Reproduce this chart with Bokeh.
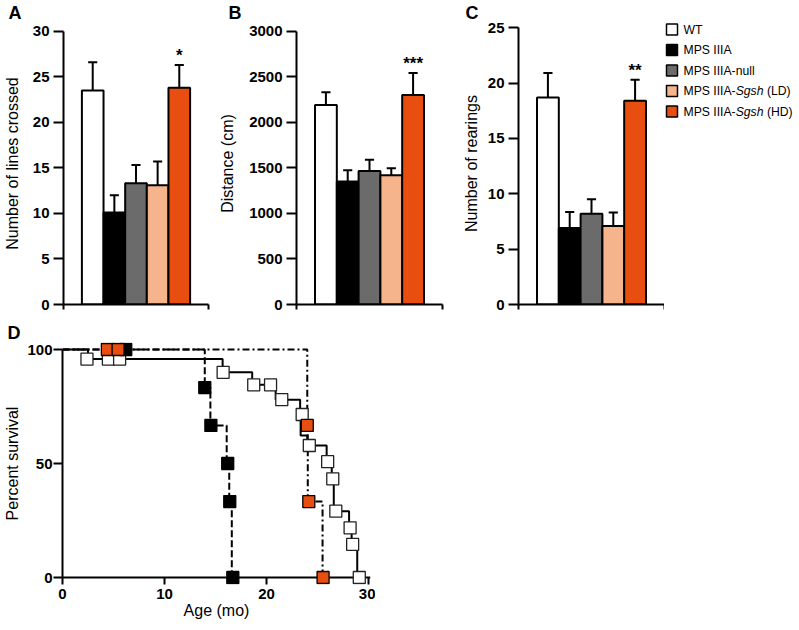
from bokeh.plotting import figure
from bokeh.models import (Range1d, FixedTicker, Span, ColumnDataSource,
                          CustomJSTickFormatter)
from bokeh.layouts import row, column
from bokeh.embed import file_html
from bokeh.resources import INLINE
from bokeh.core.properties import value

FONT = "Liberation Sans"

# ---------------- data ----------------
groups = ["WT", "MPS IIIA", "MPS IIIA-null", "MPS IIIA-Sgsh (LD)", "MPS IIIA-Sgsh (HD)"]
group_colors = ["#ffffff", "#000000", "#6b6b6b", "#f6b48c", "#e84e0f"]

lines_mean = [23.5, 10.1, 13.3, 13.1, 23.8]
lines_sem = [3.1, 1.9, 2.0, 2.6, 2.5]
lines_ticks = [0, 5, 10, 15, 20, 25, 30]
lines_stars = "*"

distance_mean = [2190, 1350, 1465, 1420, 2300]
distance_sem = [140, 125, 125, 75, 240]
distance_ticks = [0, 500, 1000, 1500, 2000, 2500, 3000]
distance_stars = "***"

rearing_mean = [18.7, 6.9, 8.2, 7.1, 18.4]
rearing_sem = [2.2, 1.45, 1.3, 1.2, 1.9]
rearing_ticks = [0, 5, 10, 15, 20, 25]
rearing_stars = "**"

# Kaplan-Meier survival (age in months, percent surviving)
wt_step_t = [0, 2.5, 15.7, 18.6, 20.9, 23.3, 23.35, 24.0, 25.9, 26.4, 26.6, 28.1, 28.35, 28.9]
wt_step_s = [100, 95.8, 90.0, 84.5, 78.0, 71.5, 62.3, 57.9, 50.8, 43.3, 29.1, 21.8, 14.5, 0]
wt_mark_t = [2.4, 4.5, 5.6, 15.75, 18.75, 20.4, 21.5, 23.5, 24.2, 26.0, 26.5, 26.8, 28.2, 28.45, 29.1]
wt_mark_s = [95.8, 95.8, 95.8, 90.0, 84.5, 84.5, 78.0, 71.5, 57.9, 50.8, 43.3, 29.1, 21.8, 14.5, 0]

mps_step_t = [0, 13.95, 14.5, 16.1, 16.35, 16.6]
mps_step_s = [100, 83.3, 66.7, 50.0, 33.3, 0]
mps_mark_t = [6.2, 13.95, 14.55, 16.2, 16.4, 16.7]
mps_mark_s = [100, 83.3, 66.7, 50.0, 33.3, 0]

hd_step_t = [0, 24.0, 24.05, 25.5]
hd_step_s = [100, 66.7, 33.3, 0]
hd_mark_t = [4.4, 5.45, 24.0, 24.15, 25.55]
hd_mark_s = [100, 100, 66.7, 33.3, 0]

age_ticks = [0, 10, 20, 30]
survival_ticks = [0, 50, 100]

# ---------------- layout constants (pixels) ----------------
ROW_H = 318
TOP = 22          # frame top of upper panels
ZERO_PX = 304     # pixel row of y = 0 in upper panels
BOTTOM = ROW_H - ZERO_PX
X0, X1 = -1.35, 5.35


def set_letter(p, letter, offset):
    t = p.title
    t.text = letter
    t.align = "left"
    t.offset = offset
    t.standoff = 0
    t.text_font = FONT
    t.text_font_size = "18px"
    t.text_font_style = "bold"
    t.text_color = "black"


def style_yaxis(ax, label, standoff, tick_size="15px", lab_standoff=4, tick_out=10):
    ax.axis_label = label
    ax.axis_label_text_font = FONT
    ax.axis_label_text_font_size = "16px"
    ax.axis_label_text_font_style = "normal"
    ax.axis_label_text_color = "black"
    ax.axis_label_standoff = standoff
    ax.major_label_text_font = FONT
    ax.major_label_text_font_size = tick_size
    ax.major_label_text_font_style = "bold"
    ax.major_label_text_color = "black"
    ax.major_label_standoff = lab_standoff
    ax.major_tick_out = tick_out
    ax.major_tick_in = 0
    ax.minor_tick_line_color = None
    ax.axis_line_width = 2
    ax.major_tick_line_width = 2
    ax.axis_line_color = "black"
    ax.major_tick_line_color = "black"


def bar_panel(letter, means, sems, ticks, ylabel, stars, width, left, right,
              standoff, letter_x, axis_top_px):
    ymax = ticks[-1]
    yend = ymax * (ZERO_PX - TOP) / (ZERO_PX - axis_top_px)
    p = figure(width=width, height=ROW_H, x_range=Range1d(X0, X1), y_range=Range1d(0, yend),
               output_backend="svg", toolbar_location=None,
               min_border_left=left, min_border_right=right,
               min_border_top=TOP, min_border_bottom=BOTTOM)
    p.outline_line_color = None
    p.grid.visible = False
    xs = list(range(len(means)))
    tops = [m + s for m, s in zip(means, sems)]
    cap = 0.21
    src = ColumnDataSource(dict(x=xs, mean=means, top=tops, color=group_colors,
                                cx0=[x - cap for x in xs], cx1=[x + cap for x in xs]))
    p.vbar(x="x", top="mean", bottom=0, width=1.0, fill_color="color",
           line_color="black", line_width=2, source=src)
    p.segment(x0="x", y0="mean", x1="x", y1="top", line_color="black", line_width=2, source=src)
    p.segment(x0="cx0", y0="top", x1="cx1", y1="top", line_color="black", line_width=2, source=src)
    p.text(x=[xs[-1]], y=[tops[-1]], text=[stars], text_font=value(FONT),
           text_font_size="17px", text_font_style="bold", text_color="black",
           text_align="center", text_baseline="bottom")

    ya = p.yaxis[0]
    style_yaxis(ya, ylabel, standoff)
    ya.ticker = FixedTicker(ticks=ticks)
    ya.bounds = (0, ymax)

    xa = p.xaxis[0]
    xa.ticker = FixedTicker(ticks=[X0, X1])
    xa.formatter = CustomJSTickFormatter(code="return ''")
    xa.major_tick_out = 5
    xa.major_tick_in = 0
    xa.minor_tick_line_color = None
    xa.axis_line_width = 2
    xa.major_tick_line_width = 2
    xa.axis_line_color = "black"
    xa.major_tick_line_color = "black"

    set_letter(p, letter, letter_x - left)
    return p


pA = bar_panel("A", lines_mean, lines_sem, lines_ticks, "Number of lines crossed", lines_stars,
               215, 62, 7, 9, 7, 30.7)
pB = bar_panel("B", distance_mean, distance_sem, distance_ticks, "Distance (cm)", distance_stars,
               240, 81, 13, 10, 13, 30.7)
pC = bar_panel("C", rearing_mean, rearing_sem, rearing_ticks, "Number of rearings", rearing_stars,
               209, 63, 0, 5, 10, 27.2)

# ---------------- legend ----------------
LEG_W = 135
leg = figure(width=LEG_W, height=ROW_H, x_range=Range1d(0, LEG_W),
             y_range=Range1d(ZERO_PX, TOP),
             output_backend="svg", toolbar_location=None,
             x_axis_location=None, y_axis_location=None,
             min_border_left=0, min_border_right=0,
             min_border_top=TOP, min_border_bottom=BOTTOM)
leg.outline_line_color = None
leg.grid.visible = False
row_y = [29 + 20.5 * i for i in range(len(groups))]
leg.scatter(x=[7.5] * len(groups), y=row_y, marker="square", size=11,
            fill_color=group_colors, line_color="black", line_width=1.5)

# Arial / Liberation Sans advance widths (per 1000 em)
W = {" ": 278, "(": 333, ")": 333, "-": 333, "A": 667, "D": 722, "H": 722, "I": 278,
     "L": 556, "M": 833, "P": 667, "S": 667, "T": 611, "W": 944, "l": 222, "n": 556,
     "u": 556, "g": 556, "s": 500, "h": 556}
FS = 12.2


def tw(s):
    return sum(W.get(c, 556) for c in s) * FS / 1000.0


px, py, pt, pstyle = [], [], [], []
for name, yy in zip(groups, row_y):
    x = 19.0
    if "Sgsh" in name:
        a, b = name.split("Sgsh")
        parts = [(a, "normal"), ("Sgsh", "italic"), (b, "normal")]
    else:
        parts = [(name, "normal")]
    for txt, st in parts:
        lead = len(txt) - len(txt.lstrip(" "))
        x += tw(" " * lead)
        txt = txt.lstrip(" ")
        px.append(x)
        py.append(yy)
        pt.append(txt)
        pstyle.append(st)
        x += tw(txt)
lsrc = ColumnDataSource(dict(x=px, y=py, text=pt, style=pstyle))
leg.text(x="x", y="y", text="text", text_font_style="style", source=lsrc,
         text_font=value(FONT), text_font_size="12.2px", text_color="black",
         text_align="left", text_baseline="middle")

# ---------------- survival panel ----------------
D_W, D_H = 375, 306
DL, DR, DT, DB = 62, 5, 24, 40
Y100_PX, Y0_PX = 349 - 318, 577 - 318        # within the figure
ppu = (Y0_PX - Y100_PX) / 100.0
dyr = (-(D_H - DB - Y0_PX) / ppu, 100 + (Y100_PX - DT) / ppu)
dxr = (0, 30.2)
pD = figure(width=D_W, height=D_H, x_range=Range1d(*dxr), y_range=Range1d(*dyr),
            output_backend="svg", toolbar_location=None,
            min_border_left=DL, min_border_right=DR, min_border_top=DT, min_border_bottom=DB)
pD.outline_line_color = None
pD.grid.visible = False
pD.add_layout(Span(location=0, dimension="width", line_color="black", line_width=2,
                   level="underlay"))

pD.step(wt_step_t, wt_step_s, mode="after", line_color="black", line_width=2)
pD.step(mps_step_t, mps_step_s, mode="after", line_color="black", line_width=2, line_dash="7 3")
pD.step(hd_step_t, hd_step_s, mode="after", line_color="black", line_width=2,
        line_dash="7 3 2 3")
pD.scatter(wt_mark_t, wt_mark_s, marker="square", size=12, fill_color="white",
           line_color="#222222", line_width=1.3)
pD.scatter(mps_mark_t, mps_mark_s, marker="square", size=12, fill_color="black",
           line_color="black", line_width=1.3)
pD.scatter(hd_mark_t, hd_mark_s, marker="square", size=12, fill_color=group_colors[4],
           line_color="black", line_width=1.3)

yd = pD.yaxis[0]
style_yaxis(yd, "Percent survival", 3, tick_size="15px", lab_standoff=1, tick_out=9)
yd.ticker = FixedTicker(ticks=survival_ticks)
yd.bounds = (0, 100)

xd = pD.xaxis[0]
xd.ticker = FixedTicker(ticks=age_ticks)
xd.axis_label = "Age (mo)"
xd.axis_label_text_font = FONT
xd.axis_label_text_font_size = "16px"
xd.axis_label_text_font_style = "normal"
xd.axis_label_text_color = "black"
xd.axis_label_standoff = 0
xd.major_label_text_font = FONT
xd.major_label_text_font_size = "15px"
xd.major_label_text_font_style = "bold"
xd.major_label_text_color = "black"
xd.major_label_standoff = 4
xd.axis_line_color = None
xd.major_tick_in = 7
xd.major_tick_out = 0
xd.major_tick_line_width = 2
xd.major_tick_line_color = "black"
xd.minor_tick_line_color = None

set_letter(pD, "D", 7 - DL)

layout = column(row(pA, pB, pC, leg), pD)
open("out.html", "w").write(file_html(layout, INLINE))
